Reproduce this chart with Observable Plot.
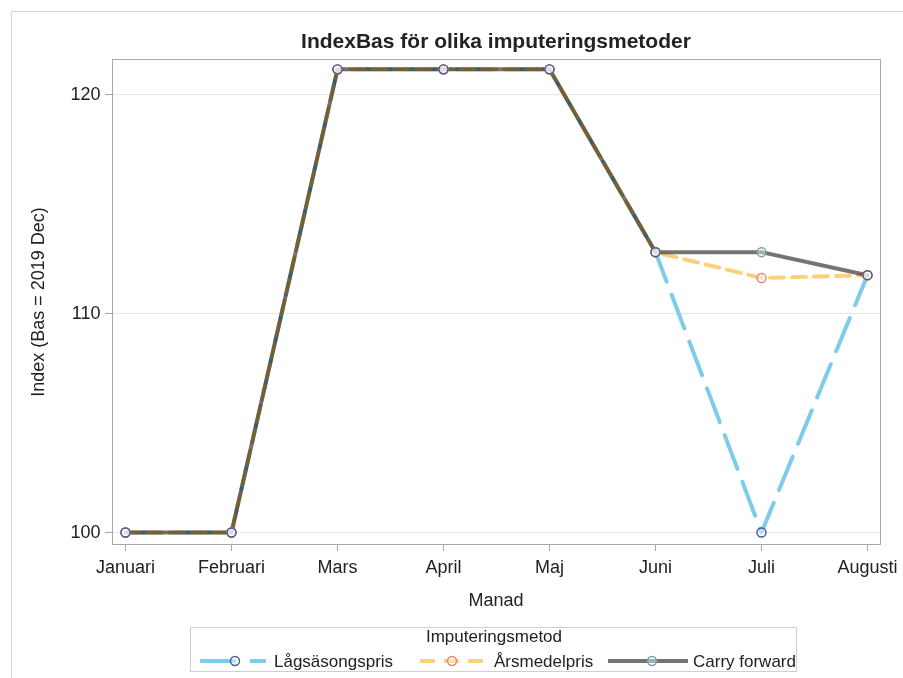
<!DOCTYPE html>
<html><head><meta charset="utf-8">
<script src="https://cdn.jsdelivr.net/npm/d3@7"></script>
<script src="https://cdn.jsdelivr.net/npm/@observablehq/plot@0.6"></script>
<style>
body{margin:0;background:#fff;font-family:"Liberation Sans",Arial,sans-serif;color:#222;}
#wrap{position:relative;width:903px;height:678px;overflow:hidden;}
#border{position:absolute;left:11px;top:11px;width:900px;height:700px;border-left:1px solid #d6d6d6;border-top:1px solid #d6d6d6;}
#chart{position:absolute;left:0;top:0;}
.t{position:absolute;white-space:nowrap;line-height:1;}
#title{left:0;width:992px;text-align:center;top:30px;font-size:21px;font-weight:bold;}
#xlabel{left:396px;width:200px;text-align:center;top:591px;font-size:18px;}
#ylabel{left:38px;top:302px;font-size:18px;transform:translate(-50%,-50%) rotate(-90deg);}
#legend{position:absolute;left:190px;top:627px;width:607px;height:45px;border:1px solid #cfcfcf;box-sizing:border-box;}
</style></head>
<body><div id="wrap">
<div id="border"></div>
<div id="chart"></div>
<div class="t" id="title">IndexBas för olika imputeringsmetoder</div>
<div class="t" id="xlabel">Manad</div>
<div class="t" id="ylabel">Index (Bas = 2019 Dec)</div>
<div id="legend"></div>
</div>
<script>
const months = ["Januari","Februari","Mars","April","Maj","Juni","Juli","Augusti"];
const lagsasongspris = [100,100,121.15,121.15,121.15,112.8,100,111.75];
const arsmedelpris   = [100,100,121.15,121.15,121.15,112.8,111.62,111.75];
const carryForward   = [100,100,121.15,121.15,121.15,112.8,112.8,111.75];
const seriesNames = ["Lågsäsongspris","Årsmedelpris","Carry forward"];
const seriesColors = ["#7fcbea","#fdd07e","#747474"];
const markerColors = ["#4e5590","#d98a78","#6aa7a3"];
const dashes = ["36,14","14,8","none"];
const blends = ["normal","normal","multiply"];
const yTicks = [100,110,120];
const legendTitle = "Imputeringsmetod";

const rows = (vals, name) => months.map((m,i)=>({month:m, value:vals[i], series:name}));
const data = [rows(lagsasongspris, seriesNames[0]), rows(arsmedelpris, seriesNames[1]), rows(carryForward, seriesNames[2])];

const lineMarks = data.map((d,i)=>Plot.line(d,{x:"month",y:"value",stroke:seriesColors[i],strokeWidth:4,
  strokeDasharray:dashes[i],mixBlendMode:blends[i],strokeLinejoin:"round"}));
const dotMarks = [2,1,0].map(i=>Plot.dot(data[i],{x:"month",y:"value",r:4.5,stroke:markerColors[i],strokeWidth:1.4,
  fill:"white",fillOpacity:0.4}));

const plot = Plot.plot({
  width:903, height:620,
  marginLeft:112, marginRight:23, marginTop:59, marginBottom:76,
  style:{fontSize:"18px",fontFamily:'"Liberation Sans",Arial,sans-serif',color:"#222",background:"transparent"},
  x:{type:"point",domain:months,padding:0,inset:12,label:null},
  y:{domain:[99.45,121.6],label:null},
  marks:[
    Plot.gridY(yTicks,{stroke:"#e6e6e6",strokeOpacity:1}),
    Plot.frame({stroke:"#a8a8a8"}),
    Plot.axisX({tickSize:7,tickPadding:9,stroke:"#a8a8a8",fill:"#222",label:null}),
    Plot.axisY(yTicks,{tickSize:7,tickPadding:5,stroke:"#a8a8a8",fill:"#222",label:null}),
    ...lineMarks,
    ...dotMarks
  ]
});
document.getElementById("chart").appendChild(plot);

// legend
const lg = d3.select("#legend").append("svg").attr("width",607).attr("height",45).style("position","absolute").style("left","-1px").style("top","-1px")
  .style("font-family",'"Liberation Sans",Arial,sans-serif').style("font-size","17px");
lg.append("text").attr("x",304).attr("y",15).attr("text-anchor","middle").attr("fill","#222").text(legendTitle);
const items = [{x0:10,w:66,cx:45,tx:84},{x0:230,w:63,cx:262,tx:304},{x0:418,w:80,cx:462,tx:503}];
items.forEach((it,i)=>{
  const g = lg.append("g");
  g.append("line").attr("x1",it.x0).attr("x2",it.x0+it.w).attr("y1",34).attr("y2",34)
    .attr("stroke",seriesColors[i]).attr("stroke-width",4).attr("stroke-dasharray",i===1?"15,9":dashes[i]);
  g.append("circle").attr("cx",it.cx).attr("cy",34).attr("r",4.5).attr("fill","white").attr("fill-opacity",0.4)
    .attr("stroke",markerColors[i]).attr("stroke-width",1.4);
  g.append("text").attr("x",it.tx).attr("y",40).attr("fill","#222").text(seriesNames[i]);
});
</script>
</body></html>
